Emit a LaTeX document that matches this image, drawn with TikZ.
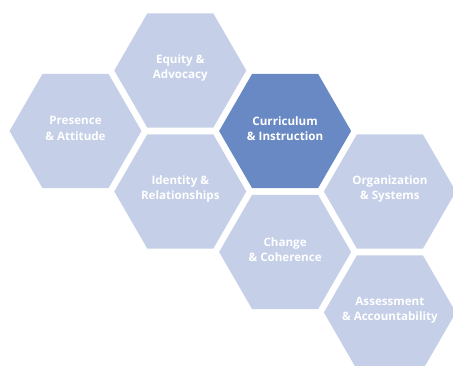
\documentclass[tikz,border=0pt]{standalone}
\usepackage{fontspec}
\setmainfont{Open Sans}
\usetikzlibrary{shapes.geometric}
\definecolor{hexlight}{RGB}{197,207,232}
\definecolor{hexdark}{RGB}{105,137,196}
\begin{document}
\begin{tikzpicture}[x=1pt,y=-1pt,
  hexa/.style={regular polygon, regular polygon sides=6, minimum size=132pt,
    inner sep=0pt, outer sep=0pt, draw=none, fill=hexlight},
  hexdk/.style={hexa, fill=hexdark},
  lbl/.style={text=white, font=\fontsize{11.6}{15.5}\selectfont\bfseries, align=center, yshift=2.5pt}]
\useasboundingbox (0,0) rectangle (453,366);
\node[hexa] (pres) at (75.5,131) {};
\node[hexa] (equi) at (180.3,70.5) {};
\node[hexdk] (curr) at (285.1,131) {};
\node[hexa] (iden) at (180.3,191.5) {};
\node[hexa] (chan) at (285.1,252) {};
\node[hexa] (orga) at (389.9,191.5) {};
\node[hexa] (asse) at (389.9,312.5) {};
\node[lbl] (tpres) at (pres.center) {Presence\\\& Attitude};
\node[lbl] (tequi) at (equi.center) {Equity \&\\Advocacy};
\node[lbl] (tcurr) at (curr.center) {Curriculum\\\& Instruction};
\node[lbl] (tiden) at (iden.center) {Identity \&\\Relationships};
\node[lbl] (tchan) at (chan.center) {Change\\\& Coherence};
\node[lbl] (torga) at (orga.center) {Organization\\\& Systems};
\node[lbl] (tasse) at (asse.center) {Assessment\\\& Accountability};
\end{tikzpicture}
\end{document}
